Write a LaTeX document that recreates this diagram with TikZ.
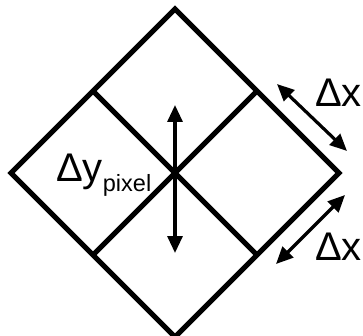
\documentclass[tikz,border=0pt]{standalone}
\usepackage{fontspec}
\setmainfont{Liberation Sans}
\usetikzlibrary{arrows.meta,calc}
\begin{document}
\begin{tikzpicture}[x=1pt,y=-1pt,
  edge/.style={line width=5pt, line join=miter},
  dim/.style={line width=3.2pt, {Triangle[length=17pt,width=15pt]}-{Triangle[length=17pt,width=15pt]}},
  lbl/.style={anchor=base west, inner sep=0pt, font=\fontsize{40}{40}\selectfont}]
\useasboundingbox (0,0) rectangle (363,336);
\coordinate (T) at (175,9);
\coordinate (R) at (339,173);
\coordinate (B) at (175,337);
\coordinate (L) at (11,173);
\draw[edge] (T) -- (R) -- (B) -- (L) -- cycle;
\coordinate (mTL) at ($(T)!0.5!(L)$);
\coordinate (mTR) at ($(T)!0.5!(R)$);
\coordinate (mBL) at ($(B)!0.5!(L)$);
\coordinate (mBR) at ($(B)!0.5!(R)$);
\draw[edge] (mTL) -- (mBR);
\draw[edge] (mBL) -- (mTR);
\coordinate (vt) at (175,105);
\coordinate (vb) at (175,253);
\draw[dim] (vt) -- (vb);
\coordinate (a1) at (277,84);
\coordinate (a2) at (347,151);
\draw[dim] (a1) -- (a2);
\coordinate (b1) at (345,195);
\coordinate (b2) at (276,264);
\draw[dim] (b1) -- (b2);
\node[lbl] (dy) at (56,182) {Δy\raisebox{-10pt}{\fontsize{23.5}{24}\selectfont pixel}};
\node[lbl] (dx1) at (315,107) {Δx};
\node[lbl] (dx2) at (315,260) {Δx};
\end{tikzpicture}
\end{document}
